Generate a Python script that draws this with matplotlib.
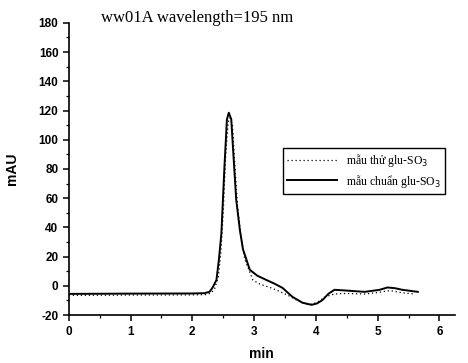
import numpy as np
import matplotlib
matplotlib.use("Agg")
import matplotlib.pyplot as plt
from matplotlib.ticker import MultipleLocator

plt.rcParams["axes.unicode_minus"] = False

# chromatogram (time in min, signal in mAU)
t_std = [0.0, 1.0, 2.0, 2.2, 2.28, 2.33, 2.39, 2.43, 2.47, 2.52, 2.56, 2.59, 2.63, 2.66, 2.71,
         2.77, 2.82, 2.93, 3.05, 3.2, 3.33, 3.46, 3.62, 3.78, 3.93, 4.02, 4.11, 4.2, 4.3, 4.49,
         4.79, 5.03, 5.16, 5.28, 5.4, 5.65]
y_std = [-5.5, -5.3, -5.2, -5.0, -4.0, -1.0, 4, 18, 36, 82, 114, 118.5, 114, 93, 59,
         38, 25, 11, 7, 4, 1.5, -1.4, -7.5, -11.5, -13, -12, -9.6, -5.5, -2.7, -3.2,
         -4.1, -2.7, -1.1, -1.6, -2.7, -4.1]

t_smp = [0.0, 1.0, 2.0, 2.22, 2.3, 2.36, 2.42, 2.46, 2.5, 2.54, 2.58, 2.61, 2.65, 2.68, 2.73,
         2.79, 2.85, 2.98, 3.1, 3.25, 3.4, 3.55, 3.7, 3.85, 3.95, 4.05, 4.15, 4.3, 4.5,
         4.8, 5.0, 5.2, 5.4, 5.6]
y_smp = [-6.5, -6.3, -6.2, -6.0, -5.0, -2.0, 6, 22, 50, 90, 112, 115, 110, 88, 55,
         32, 18, 4, 1, -1, -3.5, -6.5, -10, -12.5, -12.5, -10.5, -7.5, -5.5, -5.2,
         -5.6, -4.5, -3.2, -4.8, -5.5]

labels = ["m\u1eabu th\u1eed glu-SO$_3$", "m\u1eabu chu\u1ea9n glu-SO$_3$"]

fig = plt.figure(figsize=(4.68, 3.63), dpi=100)
ax = fig.add_axes([0.147, 0.132, 0.825, 0.805])

ax.plot(t_smp, y_smp, color="black", linestyle=(0, (1, 2.2)), linewidth=0.9, label=labels[0])
ax.plot(t_std, y_std, color="black", linestyle="-", linewidth=1.4, label=labels[1])

ax.set_xlim(0, 6.25)
ax.set_ylim(-20, 180)
ax.xaxis.set_major_locator(MultipleLocator(1))
ax.xaxis.set_minor_locator(MultipleLocator(0.5))
ax.yaxis.set_major_locator(MultipleLocator(20))
ax.yaxis.set_minor_locator(MultipleLocator(10))
ax.spines["top"].set_visible(False)
ax.spines["right"].set_visible(False)
for s in ["left", "bottom"]:
    ax.spines[s].set_linewidth(1.2)
ax.tick_params(which="major", direction="out", length=4, width=1.1, labelsize=8.5)
ax.tick_params(which="minor", direction="out", length=2.5, width=0.9)
for lab in ax.get_xticklabels() + ax.get_yticklabels():
    lab.set_fontweight("bold")
    lab.set_family("Liberation Sans")

ax.set_xlabel("min", fontsize=10, fontweight="bold", family="Liberation Sans", labelpad=7)
ax.set_ylabel("mAU", fontsize=10, fontweight="bold", family="Liberation Sans", labelpad=14)

fig.text(0.215, 0.95, "ww01A wavelength=195 nm", fontsize=12, family="Liberation Serif",
         va="center", ha="left")

leg = ax.legend(loc="upper right", bbox_to_anchor=(0.974, 0.572), frameon=True,
                fancybox=False, edgecolor="black", framealpha=1,
                prop={"family": "Liberation Serif", "size": 8.5},
                handlelength=4.2, borderpad=0.35, labelspacing=0.3, borderaxespad=0)
leg.get_frame().set_linewidth(1.0)

fig.savefig("out.png", dpi=100)
